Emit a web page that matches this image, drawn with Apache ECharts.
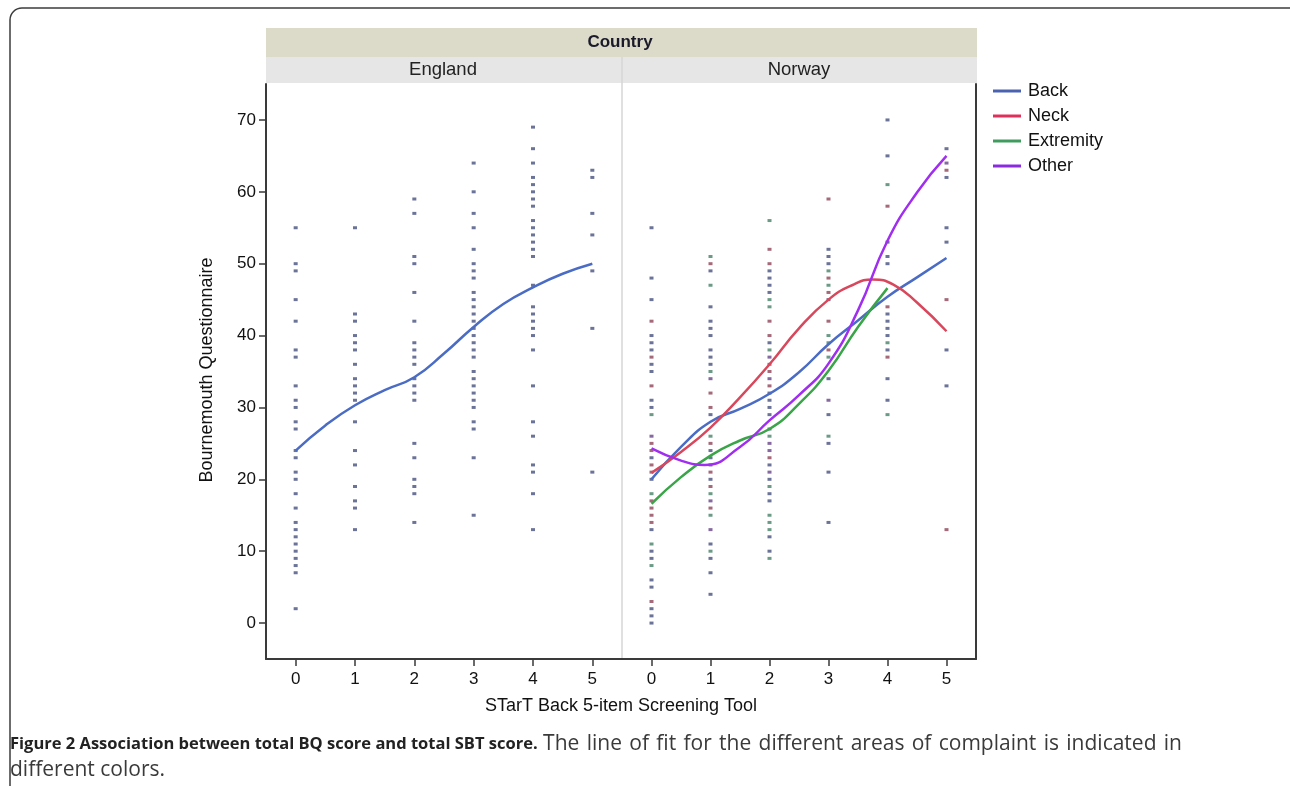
<!DOCTYPE html>
<html>
<head>
<meta charset="utf-8">
<script src="https://cdn.jsdelivr.net/npm/echarts@6/dist/echarts.min.js"></script>
<style>
html,body{margin:0;padding:0;background:#fff;}
#c{width:1290px;height:786px;}
</style>
</head>
<body>
<div id="c"></div>
<script>
// ---- Data ----
const sbtScores = [0, 1, 2, 3, 4, 5];
const bqTicks = [0, 10, 20, 30, 40, 50, 60, 70];
const groups = ['Back', 'Neck', 'Extremity', 'Other'];

// England observed BQ values per SBT score (index = score)
const englandY = [
  [55,50,49,45,42,38,37,33,31,30,28,27,24,23,21,20,18,16,14,13,12,11,10,9,8,7,2],
  [55,43,42,40,39,38,36,34,33,32,31,28,24,22,19,17,16,13],
  [59,57,51,50,46,42,39,38,37,36,34,33,32,31,25,23,20,19,18,14],
  [64,60,57,55,52,50,49,48,46,45,44,43,42,41,40,39,38,37,35,34,33,32,31,30,28,27,23,15],
  [69,66,64,62,61,60,59,58,56,55,54,53,52,51,47,44,43,42,41,40,38,33,28,26,22,21,18,13],
  [63,62,57,54,49,41,21]
];

// Norway observed BQ values per SBT score, per complaint area
const norwayBackY = [
  [55,48,45,40,39,38,36,35,31,30,23,20,13,10,9,6,5,2,1,0],
  [49,44,42,41,40,38,37,36,29,24,23,20,11,9,7,4],
  [49,48,47,46,39,32,31,30,29,27,22,20,18,17,12,10],
  [52,51,50,45,34,29,25,21,14],
  [70,65,53,51,50,43,42,41,40,38,34,31],
  [66,62,55,53,38,33]
];
const norwayNeckY = [
  [42,37,33,25,24,22,21,17,16,15,14,3],
  [50,32,30,25,21,19,16],
  [52,50,42,40,36,35,33,23],
  [59,48,46,42,38],
  [58,44,37],
  [63,45,13]
];
const norwayExtremityY = [
  [29,18,11,8],
  [51,47,35,26,18,15,10],
  [56,45,44,38,26,19,15,14,13,9],
  [49,47,40,39,37,26],
  [61,39,29],
  []
];
const norwayOtherY = [
  [26],
  [34,22,17,13],
  [37,34,25,24,21],
  [31],
  [],
  [64]
];

// Fitted (loess) curves read at these SBT positions
const fitX = [0, 0.5, 1, 1.5, 2, 2.5, 3, 3.5, 4, 4.5, 5];
const englandBackFit = [24, 27.5, 30.3, 32.4, 34.2, 37.5, 41.2, 44.4, 46.7, 48.6, 50];
const norwayBackFit = [20, 24.5, 28, 29.8, 31.9, 34.9, 38.8, 42.1, 45.4, 48.1, 50.8];
const neckFitX = [0, 0.5, 1, 1.5, 2, 2.5, 3, 3.4, 3.75, 4.1, 4.5, 5];
const norwayNeckFit = [20.9, 23.8, 27.2, 31.4, 36, 41, 45, 47, 47.8, 47.1, 44.6, 40.6];
const norwayExtremityFit = [16.6, 20.3, 23.3, 25.4, 27, 30.5, 35.1, 41.2, 46.6];
const otherFitX = [0, 0.5, 0.9, 1.5, 2, 2.5, 3, 3.5, 4, 4.5, 5];
const norwayOtherFit = [24.3, 22.6, 22.0, 24.5, 28.2, 31.7, 36.1, 43.5, 53.2, 59.9, 65];

// Caption text
const captionBold = 'Figure 2 Association between total BQ score and total SBT score.';
const captionRest = 'The line of fit for the different areas of complaint is indicated in';
const captionLine2 = 'different colors.';

// ---- Build ----
function pts(cols) {
  const out = [];
  cols.forEach((ys, i) => ys.forEach(y => out.push([sbtScores[i], y])));
  return out;
}
function fit(vals, xs) { xs = xs || fitX; return vals.map((v, i) => [xs[i], v]); }

const lineColors = { Back: '#4a6cc4', Neck: '#d8485c', Extremity: '#3aa548', Other: '#a02ef0' };
const legendColors = { Back: '#4a62b0', Neck: '#e0305a', Extremity: '#3f9c5e', Other: '#8a2be2' };
const dotColors = { Back: '#46507e', Neck: '#8e4458', Extremity: '#468268', Other: '#664488' };

const axisFont = 'Liberation Sans, Arial, sans-serif';
const captionFont = 'Open Sans, sans-serif';
const axisLineStyle = { color: '#3a3a3a', width: 2 };

function xAxisCfg(gi) {
  return {
    gridIndex: gi, type: 'value', min: -0.5, max: 5.5, interval: 0.5,
    axisLine: { show: true, lineStyle: axisLineStyle, onZero: false },
    axisTick: { show: true, length: 7, lineStyle: { color: '#3a3a3a', width: 1.5 }, customValues: sbtScores },
    axisLabel: { show: true, customValues: sbtScores, margin: 12, fontSize: 17, color: '#111', fontFamily: axisFont },
    splitLine: { show: false }
  };
}

const dotSymbol = { symbol: 'rect', symbolSize: [4, 3] };

const series = [
  Object.assign({ type: 'scatter', xAxisIndex: 0, yAxisIndex: 0, data: pts(englandY),
    itemStyle: { color: dotColors.Back }, silent: true, z: 2 }, dotSymbol),
];
const norwayDots = { Back: norwayBackY, Neck: norwayNeckY, Extremity: norwayExtremityY, Other: norwayOtherY };
groups.forEach(g => {
  series.push(Object.assign({ type: 'scatter', name: g + ' obs', xAxisIndex: 1, yAxisIndex: 1,
    data: pts(norwayDots[g]), itemStyle: { color: dotColors[g] }, silent: true, z: 2 }, dotSymbol));
});

const lineBase = { type: 'line', smooth: 0.5, showSymbol: false, symbol: 'none', z: 5, silent: true };
series.push(Object.assign({}, lineBase, { name: 'Back', xAxisIndex: 0, yAxisIndex: 0, data: fit(englandBackFit),
  lineStyle: { color: lineColors.Back, width: 2.5 }, itemStyle: { color: legendColors.Back } }));
const norwayFits = {
  Back: fit(norwayBackFit), Neck: fit(norwayNeckFit, neckFitX),
  Extremity: fit(norwayExtremityFit), Other: fit(norwayOtherFit, otherFitX)
};
groups.forEach(g => {
  series.push(Object.assign({}, lineBase, { name: g, xAxisIndex: 1, yAxisIndex: 1, data: norwayFits[g],
    lineStyle: { color: lineColors[g], width: 2.5 }, itemStyle: { color: legendColors[g] } }));
});

// Caption: bold lead-in set naturally, remaining words justified to the right margin
const capBoldSize = 16.5, capNormSize = 21;
const capLeft = 10, capRight = 1182, capY1 = 744, capY2 = 770;
const measureCtx = document.createElement('canvas').getContext('2d');
const captionGraphics = [];
measureCtx.font = 'bold ' + capBoldSize + 'px "Open Sans"';
captionGraphics.push({ type: 'text', x: capLeft, y: capY1, silent: true, style: {
  text: captionBold, fontSize: capBoldSize, fontWeight: 'bold', fill: '#222', fontFamily: captionFont, verticalAlign: 'middle' } });
const boldEnd = capLeft + measureCtx.measureText(captionBold).width;
measureCtx.font = capNormSize + 'px "Open Sans"';
const restWords = captionRest.split(' ');
const restStart = boldEnd + measureCtx.measureText(' ').width;
const wordWidths = restWords.map(w => measureCtx.measureText(w).width);
const restNatural = wordWidths.reduce((a, b) => a + b, 0);
const gap = (capRight - restStart - restNatural) / (restWords.length - 1);
let cx = restStart;
restWords.forEach((w, i) => {
  captionGraphics.push({ type: 'text', x: cx, y: capY1, silent: true, style: {
    text: w, fontSize: capNormSize, fill: '#3a3a3a', fontFamily: captionFont, verticalAlign: 'middle' } });
  cx += wordWidths[i] + gap;
});
captionGraphics.push({ type: 'text', x: capLeft, y: capY2, silent: true, style: {
  text: captionLine2, fontSize: capNormSize, fill: '#3a3a3a', fontFamily: captionFont, verticalAlign: 'middle' } });

const chart = echarts.init(document.getElementById('c'), null, { renderer: 'canvas' });
chart.setOption({
  animation: false,
  backgroundColor: '#fff',
  legend: {
    data: groups, orient: 'vertical', left: 988, top: 77,
    icon: 'rect', itemWidth: 28, itemHeight: 3, itemGap: 7,
    textStyle: { fontSize: 18, color: '#111', fontFamily: axisFont, padding: [0, 0, 0, 2] },
    selectedMode: false
  },
  grid: [
    { left: 266, top: 84, width: 356, height: 575 },
    { left: 622, top: 84, width: 354, height: 575 }
  ],
  xAxis: [xAxisCfg(0), xAxisCfg(1)],
  yAxis: [
    { gridIndex: 0, type: 'value', min: -5, max: 75, interval: 5, position: 'left',
      axisLine: { show: true, lineStyle: axisLineStyle, onZero: false },
      axisTick: { show: true, length: 7, lineStyle: { color: '#3a3a3a', width: 1.5 }, customValues: bqTicks },
      axisLabel: { show: true, customValues: bqTicks, margin: 10, fontSize: 17, color: '#111', fontFamily: axisFont },
      splitLine: { show: false } },
    { gridIndex: 1, type: 'value', min: -5, max: 75, interval: 5, position: 'right',
      axisLine: { show: true, lineStyle: axisLineStyle, onZero: false },
      axisTick: { show: false }, axisLabel: { show: false }, splitLine: { show: false } }
  ],
  graphic: [
    // outer rounded frame
    { type: 'rect', shape: { x: 10, y: 8, width: 1300, height: 820, r: 12 },
      style: { fill: 'none', stroke: '#3c3c3c', lineWidth: 1.5 }, silent: true, z: 1 },
    // header strips
    { type: 'rect', shape: { x: 266, y: 28, width: 711, height: 29 }, style: { fill: '#dcdac9' }, silent: true },
    { type: 'rect', shape: { x: 266, y: 57, width: 711, height: 26 }, style: { fill: '#e6e6e6' }, silent: true },
    { type: 'line', shape: { x1: 622, y1: 57, x2: 622, y2: 658 }, style: { stroke: '#d6d6d6', lineWidth: 1.5 }, silent: true, z: 1 },
    { type: 'text', x: 620, y: 42, style: { text: 'Country', fontSize: 17, fontWeight: 'bold', fill: '#1a1a2a',
      fontFamily: axisFont, align: 'center', verticalAlign: 'middle' }, silent: true },
    { type: 'text', x: 443, y: 70, style: { text: 'England', fontSize: 18.5, fill: '#222', fontFamily: axisFont,
      align: 'center', verticalAlign: 'middle' }, silent: true },
    { type: 'text', x: 799, y: 70, style: { text: 'Norway', fontSize: 18.5, fill: '#222', fontFamily: axisFont,
      align: 'center', verticalAlign: 'middle' }, silent: true },
    // axis titles
    { type: 'text', x: 621, y: 706, style: { text: 'STarT Back 5-item Screening Tool', fontSize: 18, fill: '#111',
      fontFamily: axisFont, align: 'center', verticalAlign: 'middle' }, silent: true },
    { type: 'text', x: 207, y: 370, rotation: Math.PI / 2, style: { text: 'Bournemouth Questionnaire', fontSize: 18, fill: '#111',
      fontFamily: axisFont, align: 'center', verticalAlign: 'middle' }, silent: true }
  ].concat(captionGraphics),
  series: series
});
</script>
</body>
</html>
